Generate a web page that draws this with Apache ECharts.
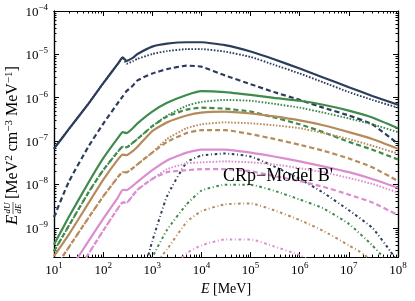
<!DOCTYPE html>
<html><head><meta charset="utf-8">
<script src="https://cdn.jsdelivr.net/npm/echarts@6/dist/echarts.min.js"></script>
<style>html,body{margin:0;padding:0;background:#fff}#c{width:415px;height:301px}</style>
</head><body><div id="c"></div>
<script>
// ---- data ----
const E_main = [10,20,50,100,200,250,300,400,500,1e3,2e3,5e3,1e4,3e4,1e5,3e5,1e6,3e6,1e7,3e7,1e8];
const navySolid  = [6.67e-8,1.88e-7,7.24e-7,2.15e-6,6.1e-6,8.5e-6,7.1e-6,8.3e-6,1.02e-5,1.51e-5,1.76e-5,1.9e-5,1.9e-5,1.63e-5,1.16e-5,7.7e-6,4.7e-6,2.94e-6,1.75e-6,1.1e-6,6.9e-7];
const navyDotted = [6.67e-8,1.88e-7,7.24e-7,2.15e-6,6.1e-6,8.5e-6,6.08e-6,6.92e-6,7.87e-6,1.02e-5,1.19e-5,1.32e-5,1.32e-5,1.16e-5,8.7e-6,5.77e-6,3.62e-6,2.27e-6,1.35e-6,8.9e-7,5.9e-7];
const navyDashed = [1.77e-9,1.15e-8,7.4e-8,2.5e-7,7.6e-7,1.07e-6,1.42e-6,1.89e-6,2.52e-6,3.62e-6,4.57e-6,5.48e-6,5.2e-6,3.27e-6,2.05e-6,1.35e-6,8.9e-7,5.9e-7,3.89e-7,2.44e-7,8.65e-8];
const greenSolid  = [4.14e-10,1.77e-9,1.09e-8,3.97e-8,1.18e-7,1.61e-7,1.53e-7,1.98e-7,2.57e-7,4.79e-7,7.64e-7,1.16e-6,1.42e-6,1.35e-6,1.16e-6,9.9e-7,8.5e-7,6.9e-7,5.05e-7,3.51e-7,1.98e-7];
const greenDotted = [2.88e-10,1.11e-9,6.47e-9,2.13e-8,5.71e-8,7.4e-8,7.2e-8,9.1e-8,1.12e-7,2.2e-7,3.89e-7,6.53e-7,8.0e-7,8.9e-7,8.5e-7,7.24e-7,5.9e-7,4.55e-7,3.33e-7,2.44e-7,1.61e-7];
const greenDashed = [2.88e-10,1.11e-9,6.47e-9,2.13e-8,5.71e-8,7.4e-8,7.2e-8,9.1e-8,1.12e-7,2.2e-7,3.7e-7,5.31e-7,5.9e-7,5.6e-7,4.79e-7,3.51e-7,2.44e-7,1.61e-7,9.6e-8,6.34e-8,3.77e-8];
const brownSolid  = [2.22e-10,6.95e-10,3.66e-9,1.27e-8,3.77e-8,4.89e-8,4.75e-8,5.86e-8,7.4e-8,1.7e-7,2.7e-7,3.89e-7,4.55e-7,4.79e-7,4.32e-7,3.7e-7,3.0e-7,2.32e-7,1.61e-7,1.12e-7,6.67e-8];
const brownDotted = [1.1e-10,3.55e-10,1.68e-9,5.26e-9,1.48e-8,1.92e-8,1.9e-8,2.37e-8,2.91e-8,5.42e-8,1.12e-7,1.98e-7,2.44e-7,2.7e-7,2.57e-7,2.32e-7,1.98e-7,1.53e-7,1.12e-7,7.8e-8,5.15e-8];
const brownDashed = [1.1e-10,3.55e-10,1.68e-9,5.26e-9,1.48e-8,1.92e-8,1.9e-8,2.37e-8,2.91e-8,5.42e-8,9.6e-8,1.53e-7,1.79e-7,1.79e-7,1.45e-7,1.12e-7,8.2e-8,6.0e-8,3.97e-8,2.49e-8,1.2e-8];

const E_pinkSolid = [20,50,100,200,250,300,400,500,1e3,2e3,5e3,1e4,3e4,1e5,3e5,1e6,3e6,1e7,3e7,1e8];
const pinkSolid   = [1.0e-10,4.84e-10,1.6e-9,4.99e-9,7.55e-9,7.36e-9,9.3e-9,1.15e-8,2.13e-8,3.58e-8,5.42e-8,6.34e-8,6.34e-8,5.42e-8,4.41e-8,3.4e-8,2.62e-8,1.92e-8,1.34e-8,8.4e-9];
const E_pinkLow   = [30,50,100,200,250,300,400,500,1e3,2e3,5e3,1e4,3e4,1e5,3e5,1e6,3e6,1e7,3e7,1e8];
const pinkDotted  = [1.0e-10,2.47e-10,8.55e-10,2.82e-9,3.85e-9,3.8e-9,5.53e-9,7.55e-9,1.34e-8,2.25e-8,3.06e-8,3.23e-8,3.4e-8,3.23e-8,2.91e-8,2.37e-8,1.92e-8,1.41e-8,1.03e-8,6.47e-9];
const pinkDashed  = [1.0e-10,2.47e-10,8.55e-10,2.82e-9,3.85e-9,3.8e-9,5.53e-9,7.55e-9,1.34e-8,1.92e-8,2.13e-8,2.25e-8,2.25e-8,2.02e-8,1.56e-8,1.2e-8,8.83e-9,5.83e-9,3.85e-9,1.96e-9];

const E_navyDD  = [750,1e3,2e3,5e3,1e4,3e4,1e5,3e5,1e6,3e6,1e7,3e7,7e7,1e8];
const navyDashDot = [1.5e-10,4.93e-10,5.37e-9,3.23e-8,4.65e-8,5.15e-8,4.41e-8,2.62e-8,1.34e-8,6.47e-9,2.54e-9,1.0e-9,2.88e-10,1.6e-10];
const E_greenDD = [900,1e3,2e3,5e3,1e4,3e4,1e5,3e5,1e6,3e6,1e7,3e7,5e7,7e7];
const greenDashDot = [1.6e-10,2.1e-10,9.0e-10,3.47e-9,7.18e-9,9.8e-9,9.8e-9,7.18e-9,4.5e-9,2.82e-9,1.23e-9,3.94e-10,2.1e-10,1.3e-10];
const E_brownDD = [1e3,2e3,5e3,1e4,3e4,1e5,3e5,1e6,3e6,1e7,2e7,3e7];
const brownDashDot = [1.2e-10,3.2e-10,1.36e-9,2.42e-9,3.47e-9,3.66e-9,2.54e-9,1.51e-9,8.55e-10,3.94e-10,2.47e-10,1.6e-10];
const E_pinkDD  = [3e3,5e3,1e4,3e4,1e5,3e5,1e6,2e6];
const pinkDashDot = [1.5e-10,2.6e-10,3.94e-10,5.37e-10,5.37e-10,3.73e-10,2.34e-10,1.5e-10];

const xTicks = [1e1,1e2,1e3,1e4,1e5,1e6,1e7,1e8];
const yTicks = [1e-9,1e-8,1e-7,1e-6,1e-5,1e-4];
const annotation = "CRp\u2212Model B'";

// ---- styling ----
const C = {navy:'#2c3d5b', green:'#3f8a4c', brown:'#b68b5c', pink:'#da8ed0'};
const ST = {solid:{type:'solid',w:2.2}, dotted:{type:[1.6,1.6],w:1.9}, dashed:{type:[5,3],w:2.2}, dashdot:{type:[2.6,2.6,0.9,2.6],w:2}};
const X_MIN=10, X_MAX=1e8, Y_MIN=2.11e-10, Y_MAX=1e-4;
const FONT='"Liberation Serif", "DejaVu Serif", serif';

function mk(E, V, color, st){
  const s = ST[st];
  return {type:'line', data:E.map((e,i)=>[e,V[i]]), symbol:'none', smooth:0.15,
    clip:true, lineStyle:{color:color, width:s.w, type:s.type, cap:'butt'}, silent:true};
}
const minorX=[]; for(let d=1; d<8; d++) for(let m=2; m<10; m++) minorX.push(m*Math.pow(10,d));
const minorY=[]; for(let d=-10; d<-4; d++) for(let m=2; m<10; m++){const v=m*Math.pow(10,d); if(v>Y_MIN) minorY.push(v);}

function supFmt(v){const e=Math.round(Math.log10(v)); return '{b|10}{s|'+(e<0?'\u2212':'')+Math.abs(e)+'}';}
const rich = {b:{fontSize:13, fontFamily:FONT, color:'#000', verticalAlign:'bottom'},
              s:{fontSize:9, fontFamily:FONT, color:'#000', verticalAlign:'bottom', padding:[0,0,7,0]}};
const axLine = {show:true, lineStyle:{color:'#000', width:1.2}};

function xAx(pos, major, showLabel){
  return {type:'log', logBase:10, min:X_MIN, max:X_MAX, position:pos, splitLine:{show:false},
    axisLine:axLine,
    axisTick:{show:true, inside:true, length:major?5:2.5, lineStyle:{color:'#000', width:1}, customValues: major?xTicks:minorX},
    axisLabel:{show:showLabel, customValues:xTicks, formatter:supFmt, rich:rich, margin:4},
    name: showLabel ? '{i|E} [MeV]' : '', nameLocation:'middle', nameGap:22,
    nameTextStyle:{rich:{i:{fontStyle:'italic', fontSize:14, fontFamily:FONT, color:'#000'}}, fontSize:14, fontFamily:FONT, color:'#000'}};
}
function yAx(pos, major, showLabel){
  return {type:'log', logBase:10, min:Y_MIN, max:Y_MAX, position:pos, splitLine:{show:false},
    axisLine:axLine,
    axisTick:{show:true, inside:true, length:major?5:2.5, lineStyle:{color:'#000', width:1}, customValues: major?yTicks:minorY},
    axisLabel:{show:showLabel, customValues:yTicks, formatter:supFmt, rich:rich, margin:6}};
}

const series = [
  mk(E_main, navySolid, C.navy, 'solid'),
  mk(E_main, navyDotted, C.navy, 'dotted'),
  mk(E_main, navyDashed, C.navy, 'dashed'),
  mk(E_navyDD, navyDashDot, C.navy, 'dashdot'),
  mk(E_main, greenSolid, C.green, 'solid'),
  mk(E_main, greenDotted, C.green, 'dotted'),
  mk(E_main, greenDashed, C.green, 'dashed'),
  mk(E_greenDD, greenDashDot, C.green, 'dashdot'),
  mk(E_main, brownSolid, C.brown, 'solid'),
  mk(E_main, brownDotted, C.brown, 'dotted'),
  mk(E_main, brownDashed, C.brown, 'dashed'),
  mk(E_brownDD, brownDashDot, C.brown, 'dashdot'),
  mk(E_pinkSolid, pinkSolid, C.pink, 'solid'),
  mk(E_pinkLow, pinkDotted, C.pink, 'dotted'),
  mk(E_pinkLow, pinkDashed, C.pink, 'dashed'),
  mk(E_pinkDD, pinkDashDot, C.pink, 'dashdot')
];

const chart = echarts.init(document.getElementById('c'), null, {renderer:'canvas'});
chart.setOption({
  animation:false,
  backgroundColor:'#fff',
  grid:{left:54, right:17, top:11, bottom:38, containLabel:false},
  xAxis:[xAx('bottom',true,true), xAx('bottom',false,false), xAx('top',true,false), xAx('top',false,false)],
  yAxis:[yAx('left',true,true), yAx('left',false,false), yAx('right',true,false), yAx('right',false,false)],
  series: series,
  graphic:[
    {type:'text', left:223, top:167, style:{text:annotation, font:'18px '+FONT, fill:'#000'}, z:100},
    {type:'group', x:13, y:225, rotation:Math.PI/2, children:[
      {type:'text', x:0, y:0, style:{text:'E', font:'italic 17px '+FONT, fill:'#000', verticalAlign:'middle', align:'left'}},
      {type:'text', x:11.5, y:-5, style:{text:'dU', font:'italic 9px '+FONT, fill:'#000', verticalAlign:'middle', align:'left'}},
      {type:'line', shape:{x1:11, y1:0, x2:23, y2:0}, style:{stroke:'#000', lineWidth:0.6}},
      {type:'text', x:11.5, y:5.5, style:{text:'dE', font:'italic 9px '+FONT, fill:'#000', verticalAlign:'middle', align:'left'}},
      {type:'text', x:26, y:0, style:{text:'[MeV{s|2} cm{s|\u22123} MeV{s|\u22121}]', font:'16px '+FONT, fill:'#000', verticalAlign:'middle', align:'left',
        rich:{s:{fontSize:11, fontFamily:FONT, fill:'#000', verticalAlign:'bottom', padding:[0,0,8,0]}}}}
    ]}
  ]
});
</script></body></html>
